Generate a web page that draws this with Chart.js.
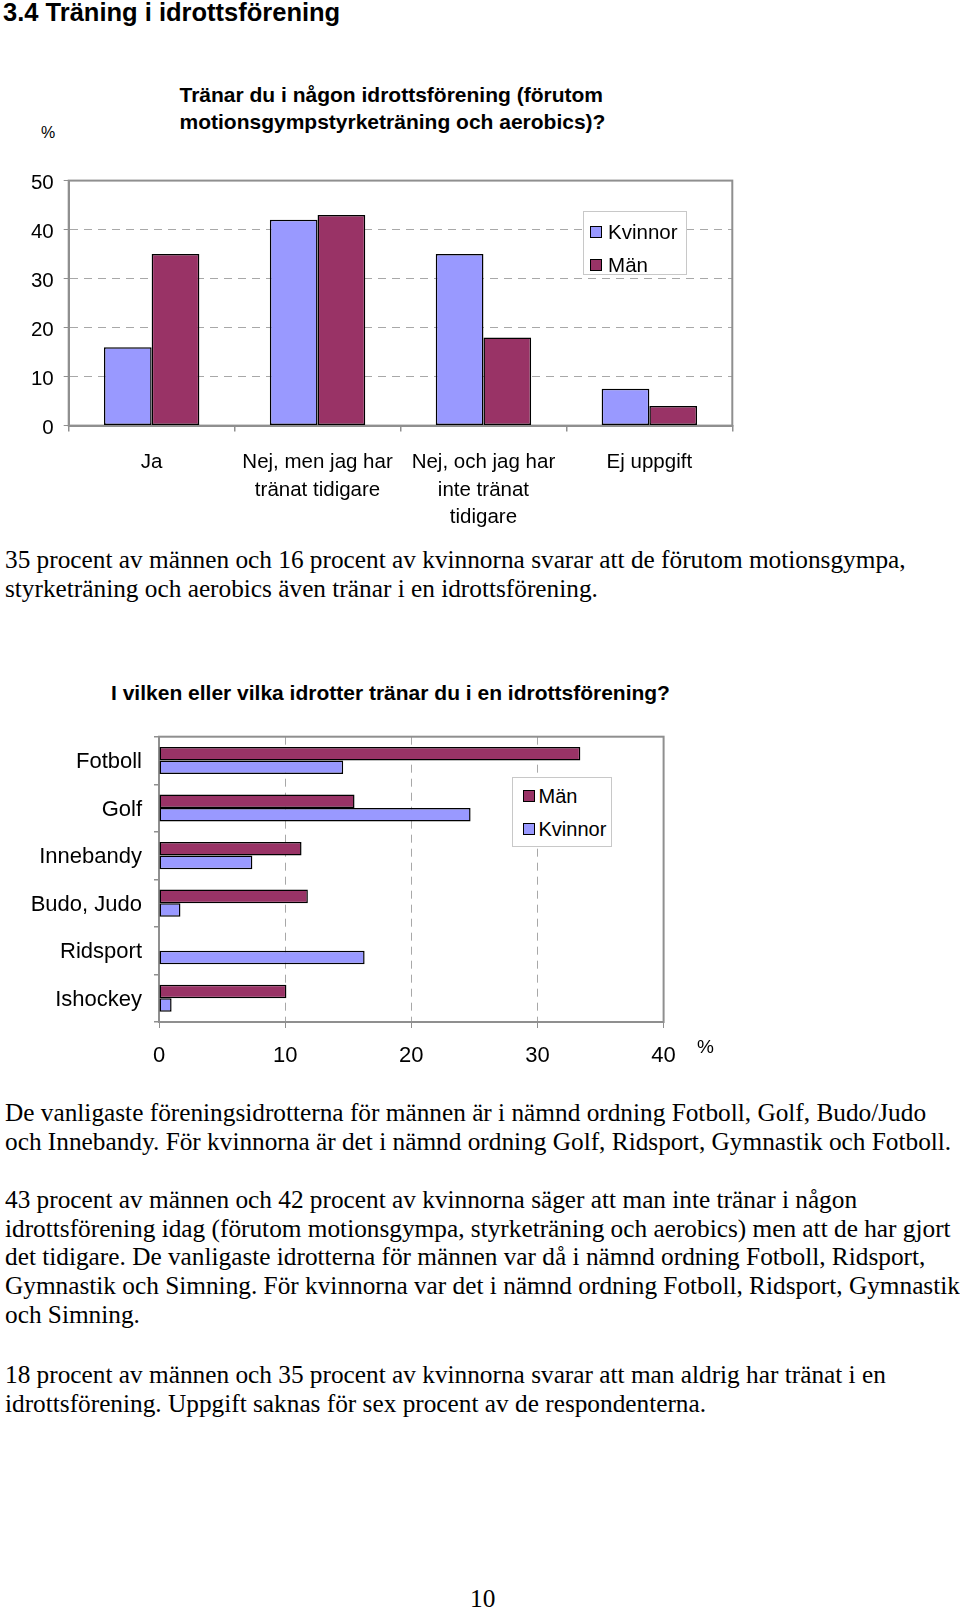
<!DOCTYPE html>
<html><head><meta charset="utf-8">
<script src="https://cdn.jsdelivr.net/npm/chart.js@4.4.1/dist/chart.umd.min.js"></script>
<style>
html,body{margin:0;padding:0;background:#fff;}
body{width:960px;height:1608px;position:relative;overflow:hidden;}
.t{position:absolute;white-space:nowrap;color:#000;}
.sans{font-family:"Liberation Sans",Arial,sans-serif;}
.bold{font-weight:bold;}
.serif{font-family:"Liberation Serif","Times New Roman",serif;font-size:25.3px;line-height:28.7px;}
.cbox{position:absolute;}
.legend{position:absolute;border:1px solid #c8c8c8;background:#fff;box-sizing:border-box;font-family:"Liberation Sans",Arial,sans-serif;}
.li{position:absolute;white-space:nowrap;line-height:20px;}
.sw{position:absolute;width:12px;height:12px;border:1.5px solid #000;box-sizing:border-box;}
</style></head><body>

<div class="t sans bold" style="left:3px;top:0px;font-size:25.5px;line-height:25.5px;">3.4 Träning i idrottsförening</div>
<div class="t sans" style="left:41px;top:124px;font-size:16px;line-height:18px;">%</div>
<div class="t sans bold" style="left:179.5px;top:82px;font-size:21px;line-height:26.7px;">Tränar du i någon idrottsförening (förutom<br>motionsgympstyrketräning och aerobics)?</div>

<div class="cbox" style="left:0;top:150px;width:760px;height:380px;"><canvas id="c1"></canvas></div>
<div class="legend" id="lg1" style="left:582.6px;top:211px;width:104.5px;height:64px;font-size:20.5px;"></div>

<div class="t serif" style="left:5px;top:545px;">35 procent av männen och 16 procent av kvinnorna svarar att de förutom motionsgympa,<br>styrketräning och aerobics även tränar i en idrottsförening.</div>

<div class="t sans bold" style="left:111px;top:680px;font-size:21px;line-height:26px;">I vilken eller vilka idrotter tränar du i en idrottsförening?</div>
<div class="cbox" style="left:0;top:700px;width:760px;height:390px;"><canvas id="c2"></canvas></div>
<div class="legend" id="lg2" style="left:512px;top:777px;width:99.5px;height:70px;font-size:20px;"></div>
<div class="t sans" style="left:697px;top:1037px;font-size:19px;line-height:20px;">%</div>

<div class="t serif" style="left:5px;top:1098px;">De vanligaste föreningsidrotterna för männen är i nämnd ordning Fotboll, Golf, Budo/Judo<br>och Innebandy. För kvinnorna är det i nämnd ordning Golf, Ridsport, Gymnastik och Fotboll.</div>

<div class="t serif" style="left:5px;top:1185px;">43 procent av männen och 42 procent av kvinnorna säger att man inte tränar i någon<br>idrottsförening idag (förutom motionsgympa, styrketräning och aerobics) men att de har gjort<br>det tidigare. De vanligaste idrotterna för männen var då i nämnd ordning Fotboll, Ridsport,<br>Gymnastik och Simning. För kvinnorna var det i nämnd ordning Fotboll, Ridsport, Gymnastik<br>och Simning.</div>

<div class="t serif" style="left:5px;top:1360px;">18 procent av männen och 35 procent av kvinnorna svarar att man aldrig har tränat i en<br>idrottsförening. Uppgift saknas för sex procent av de respondenterna.</div>

<div class="t serif" style="left:470px;top:1584px;">10</div>

<script>
// ---- Data ----
const categories1 = [["Ja"], ["Nej, men jag har", "tränat tidigare"], ["Nej, och jag har", "inte tränat", "tidigare"], ["Ej uppgift"]];
const kvinnor1 = [16, 42, 35, 7.5];
const man1 = [35, 43, 18, 4];
const yTicks1 = [0, 10, 20, 30, 40, 50];

const categories2 = ["Fotboll", "Golf", "Innebandy", "Budo, Judo", "Ridsport", "Ishockey"];
const man2 = [33.4, 15.5, 11.3, 11.8, null, 10.1];
const kvinnor2 = [14.6, 24.7, 7.4, 1.7, 16.3, 1.0];
const xTicks2 = [0, 10, 20, 30, 40];

const seriesNames = { kvinnor: "Kvinnor", man: "Män" };
const COL_K = "#9999ff";
const COL_M = "#993366";
const SANS = '"Liberation Sans", Arial, sans-serif';

const framePlugin = {
  id: 'frame',
  beforeDatasetsDraw(chart) {
    const a = chart.chartArea, ctx = chart.ctx;
    ctx.save();
    ctx.strokeStyle = '#8f8f8f';
    ctx.lineWidth = 2;
    ctx.strokeRect(a.left, a.top, a.right - a.left, a.bottom - a.top);
    ctx.restore();
  }
};

function buildLegend(el, items, top0, step, swLeft, textLeft) {
  items.forEach((it, i) => {
    const sw = document.createElement('div');
    sw.className = 'sw';
    sw.style.background = it.color;
    sw.style.left = swLeft + 'px';
    sw.style.top = (top0 + i * step + 4) + 'px';
    el.appendChild(sw);
    const tx = document.createElement('div');
    tx.className = 'li';
    tx.textContent = it.label;
    tx.style.left = textLeft + 'px';
    tx.style.top = (top0 + i * step) + 'px';
    el.appendChild(tx);
  });
}

Chart.defaults.font.family = SANS;
Chart.defaults.color = '#000';

// ---- Chart 1 ----
new Chart(document.getElementById('c1'), {
  type: 'bar',
  data: {
    labels: categories1,
    datasets: [
      { label: seriesNames.kvinnor, data: kvinnor1, backgroundColor: COL_K, borderColor: '#000', borderWidth: 1.5, borderSkipped: false },
      { label: seriesNames.man, data: man1, backgroundColor: COL_M, borderColor: '#000', borderWidth: 1.5, borderSkipped: false }
    ]
  },
  options: {
    responsive: true, maintainAspectRatio: false, animation: false,
    layout: { padding: { left: 0, right: 27.7, top: 30.6, bottom: 0 } },
    datasets: { bar: { categoryPercentage: 0.575, barPercentage: 1 } },
    plugins: { legend: { display: false }, tooltip: { enabled: false } },
    scales: {
      x: {
        afterFit: s => { s.height = 104.4; },
        grid: { drawOnChartArea: false, drawTicks: true, tickLength: 6, color: '#8f8f8f', lineWidth: 1.5 },
        border: { color: '#8f8f8f', width: 2 },
        ticks: { font: { size: 20.5, lineHeight: 1.35 }, padding: 17, maxRotation: 0, autoSkip: false, color: '#000' }
      },
      y: {
        min: yTicks1[0], max: yTicks1[yTicks1.length - 1],
        afterFit: s => { s.width = 68.7; },
        afterBuildTicks: s => { s.ticks = yTicks1.map(v => ({ value: v })); },
        grid: { color: '#a8a8a8', lineWidth: 1, tickLength: 5, tickColor: '#8f8f8f' },
        border: { color: '#8f8f8f', width: 2, dash: [8, 6] },
        ticks: { font: { size: 20.5 }, padding: 10, labelOffset: 3, color: '#000' }
      }
    }
  },
  plugins: [framePlugin]
});
buildLegend(document.getElementById('lg1'),
  [{ label: seriesNames.kvinnor, color: COL_K }, { label: seriesNames.man, color: COL_M }],
  10, 32.5, 6.5, 24.5);

// ---- Chart 2 ----
new Chart(document.getElementById('c2'), {
  type: 'bar',
  data: {
    labels: categories2,
    datasets: [
      { label: seriesNames.man, data: man2, backgroundColor: COL_M, borderColor: '#000', borderWidth: 1.5, borderSkipped: false },
      { label: seriesNames.kvinnor, data: kvinnor2, backgroundColor: COL_K, borderColor: '#000', borderWidth: 1.5, borderSkipped: false }
    ]
  },
  options: {
    indexAxis: 'y',
    responsive: true, maintainAspectRatio: false, animation: false,
    layout: { padding: { left: 0, right: 96.4, top: 36.7, bottom: 0 } },
    datasets: { bar: { categoryPercentage: 0.57, barPercentage: 1 } },
    plugins: { legend: { display: false }, tooltip: { enabled: false } },
    scales: {
      y: {
        afterFit: s => { s.width = 159; },
        grid: { drawOnChartArea: false, drawTicks: true, tickLength: 5, color: '#8f8f8f', lineWidth: 1.5 },
        border: { color: '#8f8f8f', width: 2 },
        ticks: { font: { size: 22 }, padding: 12, labelOffset: 1.5, autoSkip: false, color: '#000' }
      },
      x: {
        min: xTicks2[0], max: xTicks2[xTicks2.length - 1],
        afterFit: s => { s.height = 68; },
        afterBuildTicks: s => { s.ticks = xTicks2.map(v => ({ value: v })); },
        grid: { color: '#a8a8a8', lineWidth: 1, tickLength: 6, tickColor: '#8f8f8f' },
        border: { color: '#8f8f8f', width: 2, dash: [8, 6] },
        ticks: { font: { size: 22, lineHeight: 1.2 }, padding: 15, color: '#000' }
      }
    }
  },
  plugins: [framePlugin]
});
buildLegend(document.getElementById('lg2'),
  [{ label: seriesNames.man, color: COL_M }, { label: seriesNames.kvinnor, color: COL_K }],
  8, 32.5, 9.5, 25.5);
</script>
</body></html>
